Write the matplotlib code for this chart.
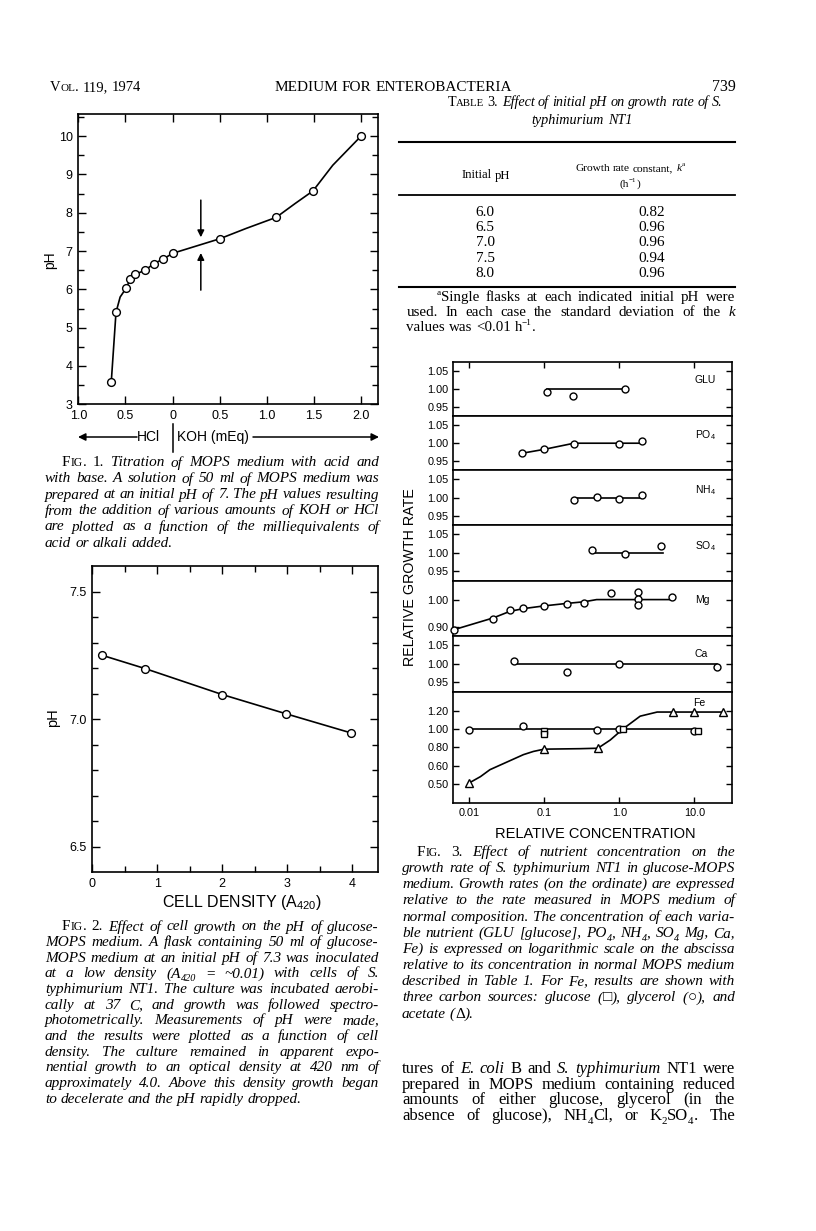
import re
import numpy as np
import matplotlib
matplotlib.use('Agg')
import matplotlib.pyplot as plt
from matplotlib.font_manager import FontProperties
from matplotlib.lines import Line2D
from matplotlib.patches import FancyArrowPatch
from matplotlib.ticker import NullLocator, FixedLocator

plt.rcParams['font.family'] = ['Liberation Sans', 'DejaVu Sans']
plt.rcParams['mathtext.fontset'] = 'custom'
plt.rcParams['mathtext.rm'] = 'Liberation Sans'
plt.rcParams['mathtext.it'] = 'Liberation Sans:italic'
plt.rcParams['mathtext.bf'] = 'Liberation Sans:bold'

# ---------------- data ----------------
# Fig. 1 titration (negative = HCl, positive = KOH), mEq
titr_meq = [-0.65, -0.60, -0.49, -0.45, -0.40, -0.29, -0.20, -0.10, 0.0, 0.50, 1.10, 1.49, 2.0]
titr_ph = [3.59, 5.40, 6.04, 6.27, 6.39, 6.50, 6.67, 6.79, 6.94, 7.32, 7.88, 8.57, 10.0]
titr_curve_x = [-0.65, -0.60, -0.556, -0.49, -0.45, -0.40, -0.29, -0.20, -0.10, 0.0, 0.50, 0.78, 1.10, 1.30, 1.49, 1.70, 2.0]
titr_curve_y = [3.59, 5.40, 5.80, 6.04, 6.27, 6.39, 6.50, 6.67, 6.79, 6.94, 7.32, 7.59, 7.88, 8.24, 8.57, 9.24, 10.0]
fig1_xticks = [-1.0, -0.5, 0.0, 0.5, 1.0, 1.5, 2.0]
fig1_xlabels = ['1.0', '0.5', '0', '0.5', '1.0', '1.5', '2.0']
fig1_yticks = [3, 4, 5, 6, 7, 8, 9, 10]

# Fig. 2 pH vs cell density
cell_density = [0.15, 0.81, 2.0, 2.99, 3.99]
ph_growth = [7.25, 7.198, 7.096, 7.02, 6.945]

# Fig. 3 relative growth rate vs relative concentration
glu_conc = [0.11, 0.24, 1.2]
glu_rate = [0.99, 0.98, 1.00]
glu_fit_conc = [0.11, 1.2]
glu_fit = [1.0, 1.0]

po4_conc = [0.05, 0.1, 0.25, 1.0, 2.0]
po4_rate = [0.971, 0.982, 0.998, 0.997, 1.005]
po4_fit_conc = [0.05, 0.1, 0.25, 2.0]
po4_fit = [0.971, 0.982, 0.999, 0.999]

nh4_conc = [0.25, 0.5, 1.0, 2.0]
nh4_rate = [0.994, 1.002, 0.997, 1.006]
nh4_fit_conc = [0.25, 2.0]
nh4_fit = [0.998, 0.998]

so4_conc = [0.43, 1.2, 3.6]
so4_rate = [1.009, 0.996, 1.019]
so4_fit_conc = [0.43, 3.8]
so4_fit = [0.999, 0.999]

mg_conc = [0.0063, 0.021, 0.035, 0.053, 0.1, 0.2, 0.34, 0.78, 1.77, 1.77, 1.77, 5.0]
mg_rate = [0.89, 0.93, 0.962, 0.97, 0.978, 0.983, 0.987, 1.023, 1.027, 1.003, 0.98, 1.008]
mg_fit_conc = [0.0063, 0.021, 0.035, 0.053, 0.1, 0.2, 0.34, 0.5, 5.0]
mg_fit = [0.89, 0.933, 0.957, 0.967, 0.977, 0.986, 0.992, 1.0, 1.0]

ca_conc = [0.04, 0.2, 1.0, 20.0]
ca_rate = [1.008, 0.977, 0.999, 0.992]
ca_fit_conc = [0.04, 20.0]
ca_fit = [1.0, 1.0]

fe_glyc_conc = [0.01, 0.052, 0.5, 1.0, 10.0]
fe_glyc_rate = [0.985, 1.035, 0.99, 1.0, 0.975]
fe_glyc_fit_conc = [0.01, 10.0]
fe_glyc_fit = [1.0, 1.0]
fe_gluc_conc = [0.1, 0.1, 1.12, 11.3]
fe_gluc_rate = [0.975, 0.94, 1.0, 0.975]
fe_acet_conc = [0.01, 0.1, 0.52, 5.2, 10.0, 24.4]
fe_acet_rate = [0.41, 0.78, 0.79, 1.185, 1.185, 1.185]
fe_acet_fit_conc = [0.01, 0.0142, 0.019, 0.053, 0.072, 0.1, 0.3, 0.52, 0.76, 1.12, 1.9, 3.2, 24.4]
fe_acet_fit = [0.41, 0.48, 0.556, 0.72, 0.755, 0.78, 0.785, 0.79, 0.88, 1.0, 1.14, 1.185, 1.185]
fe_yticks = [1.2, 1.0, 0.8, 0.6, 0.4]
fe_ylabels = ['1.20', '1.00', '0.80', '0.60', '0.50']
fig3_xticks = [0.01, 0.1, 1.0, 10.0]
fig3_xlabels = ['0.01', '0.1', '1.0', '10.0']

# Table 3
table_ph = ['6.0', '6.5', '7.0', '7.5', '8.0']
table_k = ['0.82', '0.96', '0.96', '0.94', '0.96']

# ---------------- figure ----------------
W, H = 816, 1231
fig = plt.figure(figsize=(W / 100, H / 100), dpi=100)
fig.patch.set_facecolor('white')
renderer = fig.canvas.get_renderer()
PT = 100 / 72.0
SERIF = ['Liberation Serif', 'DejaVu Serif']


def fx(x):
    return x / W


def fy(y):
    return 1 - y / H


def add_ax(l, t, r, b):
    return fig.add_axes([l / W, 1 - b / H, (r - l) / W, (b - t) / H])


def hline(x0, x1, y, lw=1.3):
    fig.add_artist(Line2D([fx(x0), fx(x1)], [fy(y), fy(y)], transform=fig.transFigure,
                          color='k', lw=lw))


# ---------- serif text engine (justified lines with mixed styles) ----------
STY = {'i': (True, 1.0, 0.0), 'r': (False, 1.0, 0.0), 'sc': (False, 0.76, 0.0),
       'sub': (False, 0.66, 0.25), 'sup': (False, 0.62, -0.42), 'isub': (True, 0.66, 0.25)}
TAG = re.compile(r'\{(\w+):([^}]*)\}')


def prop_for(st, size):
    it, sc, dy = STY[st]
    return FontProperties(family=SERIF, style='italic' if it else 'normal', size=size * sc)


def seg_w(text, st, size):
    w, h, d = renderer.get_text_width_height_descent(text, prop_for(st, size), ismath=False)
    return w


def parse(s, default):
    segs = []
    pos = 0
    for m in TAG.finditer(s):
        if m.start() > pos:
            segs.append((s[pos:m.start()], default))
        segs.append((m.group(2), m.group(1)))
        pos = m.end()
    if pos < len(s):
        segs.append((s[pos:], default))
    words = [[]]
    for text, st in segs:
        parts = text.split(' ')
        for k, p in enumerate(parts):
            if k > 0:
                words.append([])
            if p:
                words[-1].append((p, st))
    return [w for w in words if w]


def draw_line(s, x0, x1, y, size, default='i', mode='justify'):
    words = parse(s, default)
    widths = [sum(seg_w(t, st, size) for t, st in w) for w in words]
    space = seg_w('n n', 'r', size) - seg_w('nn', 'r', size)
    total = sum(widths)
    if mode == 'justify' and len(words) > 1:
        gap = (x1 - x0 - total) / (len(words) - 1)
        x = x0
    else:
        gap = space
        full = total + space * (len(words) - 1)
        if mode == 'left':
            x = x0
        elif mode == 'right':
            x = x1 - full
        else:
            x = x0 - full / 2.0
    for w, ww in zip(words, widths):
        xx = x
        for t, st in w:
            dyf = STY[st][2]
            fig.text(fx(xx), fy(y + dyf * size * PT), t, fontproperties=prop_for(st, size),
                     ha='left', va='baseline')
            xx += seg_w(t, st, size)
        x += ww + gap


def draw_par(lines, x_first, x0, x1, y0, dy, size, default='i', last_left=True):
    for k, s in enumerate(lines):
        last = (k == len(lines) - 1) and last_left
        draw_line(s, x_first if k == 0 else x0, x1, y0 + k * dy, size, default,
                  'left' if last else 'justify')


def style_axes(ax, labelsize):
    for sp in ax.spines.values():
        sp.set_linewidth(1.2)
    ax.tick_params(which='both', direction='in', top=True, right=True, width=1.0,
                   labelsize=labelsize, pad=4)
    ax.tick_params(which='major', length=5.5)
    ax.tick_params(which='minor', length=4.5)


# ---------------- page header ----------------
HDR = 11
draw_line('V{sc:OL}. 119, 1974', 50, 0, 91, 10.5, 'r', 'left')
draw_line('MEDIUM FOR ENTEROBACTERIA', 393, 0, 91, HDR, 'r', 'center')
draw_line('739', 0, 736, 91, 11.5, 'r', 'right')

# ---------------- Fig. 1 ----------------
ax1 = add_ax(78.3, 114.3, 378, 404.3)
ax1.plot(titr_curve_x, titr_curve_y, color='k', lw=1.2, zorder=2)
ax1.plot(titr_meq, titr_ph, 'o', ms=5.6, mfc='white', mec='k', mew=1.0, zorder=3)
ax1.set_xlim(-1.0, 2.18)
ax1.set_ylim(3.0, 10.57)
ax1.xaxis.set_major_locator(FixedLocator(fig1_xticks))
ax1.set_xticklabels(fig1_xlabels)
ax1.yaxis.set_major_locator(FixedLocator(fig1_yticks))
ax1.set_yticklabels([str(v) for v in fig1_yticks])
ax1.yaxis.set_minor_locator(FixedLocator([v + 0.5 for v in fig1_yticks]))
ax1.xaxis.set_minor_locator(NullLocator())
style_axes(ax1, 9)
arrow_kw = dict(arrowstyle='-|>', color='k', lw=1.1, mutation_scale=10, shrinkA=0, shrinkB=0)
ax1.annotate('', xy=(0.30, 7.36), xytext=(0.30, 8.33), arrowprops=arrow_kw)
ax1.annotate('', xy=(0.30, 6.95), xytext=(0.30, 5.98), arrowprops=arrow_kw)
fig.text(fx(50), fy(260), 'pH', rotation=90, ha='center', va='center', fontsize=10)

# HCl | KOH axis legend
fig.add_artist(FancyArrowPatch((fx(137), fy(437)), (fx(78), fy(437)), transform=fig.transFigure,
                               arrowstyle='-|>', mutation_scale=11, color='k', lw=1.1,
                               shrinkA=0, shrinkB=0))
fig.add_artist(FancyArrowPatch((fx(253), fy(437)), (fx(379), fy(437)), transform=fig.transFigure,
                               arrowstyle='-|>', mutation_scale=11, color='k', lw=1.1,
                               shrinkA=0, shrinkB=0))
fig.add_artist(Line2D([fx(173.3), fx(173.3)], [fy(424), fy(452)], transform=fig.transFigure,
                      color='k', lw=1.1))
fig.text(fx(148.5), fy(437), 'HCl', ha='center', va='center', fontsize=10)
fig.text(fx(213), fy(437), 'KOH (mEq)', ha='center', va='center', fontsize=10)

CAP = 11
cap1 = [
    '{r:F}{sc:IG}{r:. 1.} Titration of MOPS medium with acid and',
    'with base. A solution of 50 ml of MOPS medium was',
    'prepared at an initial pH of 7. The pH values resulting',
    'from the addition of various amounts of KOH or HCl',
    'are plotted as a function of the milliequivalents of',
    'acid or alkali added.',
]
draw_par(cap1, 62, 45, 379, 466.5, 16.0, CAP)

# ---------------- Fig. 2 ----------------
ax2 = add_ax(92.3, 566, 378, 872)
ax2.plot(cell_density, ph_growth, '-o', color='k', lw=1.2, ms=5.6, mfc='white', mec='k', mew=1.0)
ax2.set_xlim(0, 4.4)
ax2.set_ylim(6.4, 7.6)
ax2.xaxis.set_major_locator(FixedLocator([0, 1, 2, 3, 4]))
ax2.set_xticklabels(['0', '1', '2', '3', '4'])
ax2.xaxis.set_minor_locator(FixedLocator([0.5, 1.5, 2.5, 3.5]))
ax2.yaxis.set_major_locator(FixedLocator([6.5, 7.0, 7.5]))
ax2.set_yticklabels(['6.5', '7.0', '7.5'])
ax2.yaxis.set_minor_locator(FixedLocator([6.6, 6.7, 6.8, 6.9, 7.1, 7.2, 7.3, 7.4]))
style_axes(ax2, 9)
fig.text(fx(53), fy(718), 'pH', rotation=90, ha='center', va='center', fontsize=10.5)
fig.text(fx(242), fy(902), 'CELL DENSITY (A$_{420}$)', ha='center', va='center', fontsize=11.5)

cap2 = [
    '{r:F}{sc:IG}{r:. 2.} Effect of cell growth on the pH of glucose-',
    'MOPS medium. A flask containing 50 ml of glucose-',
    'MOPS medium at an initial pH of 7.3 was inoculated',
    'at a low density (A{isub:420} = ~0.01) with cells of S.',
    'typhimurium NT1. The culture was incubated aerobi-',
    'cally at 37 C, and growth was followed spectro-',
    'photometrically. Measurements of pH were made,',
    'and the results were plotted as a function of cell',
    'density. The culture remained in apparent expo-',
    'nential growth to an optical density at 420 nm of',
    'approximately 4.0. Above this density growth began',
    'to decelerate and the pH rapidly dropped.',
]
draw_par(cap2, 62, 45, 379, 930.5, 15.66, CAP)

# ---------------- Table 3 ----------------
draw_line('{r:T}{sc:ABLE}{r: 3.} Effect of initial pH on growth rate of S.', 585, 0, 106, 10.2, 'i', 'center')
draw_line('typhimurium NT1', 582, 0, 124, 10.2, 'i', 'center')
hline(399, 735, 141.7, 1.5)
hline(399, 735, 195, 1.3)
hline(399, 735, 287.3, 1.5)
draw_line('Initial pH', 485.5, 0, 178.5, 9.2, 'r', 'center')
draw_line('Growth rate constant, {i:k}{sup:a}', 630, 0, 171, 8.2, 'r', 'center')
draw_line('(h{sup:\u22121})', 630, 0, 186.5, 8.2, 'r', 'center')
for k in range(len(table_ph)):
    yy = 215.5 + 15.4 * k
    draw_line(table_ph[k], 485, 0, yy, 11, 'r', 'center')
    draw_line(table_k[k], 652, 0, yy, 11, 'r', 'center')
foot = [
    '{sup:a}Single flasks at each indicated initial pH were',
    'used. In each case the standard deviation of the {i:k}',
    'values was <0.01 h{sup:\u22121}.',
]
draw_par(foot, 436.5, 406.5, 735, 301, 15.2, 10.8, 'r')

# ---------------- Fig. 3 ----------------
panels = [
    # top, bottom, ylim, ticks, labels, name, name_xy
    (362.0, 415.7, (0.925, 1.075), [1.05, 1.00, 0.95], ['1.05', '1.00', '0.95'], 'GLU', (705, 380)),
    (415.7, 470.0, (0.925, 1.075), [1.05, 1.00, 0.95], ['1.05', '1.00', '0.95'], 'PO$_4$', (705, 435)),
    (470.0, 525.0, (0.925, 1.075), [1.05, 1.00, 0.95], ['1.05', '1.00', '0.95'], 'NH$_4$', (705, 490)),
    (525.0, 580.7, (0.925, 1.075), [1.05, 1.00, 0.95], ['1.05', '1.00', '0.95'], 'SO$_4$', (705, 546)),
    (580.7, 636.0, (0.867, 1.069), [1.00, 0.90], ['1.00', '0.90'], 'Mg', (702, 600)),
    (636.0, 691.7, (0.925, 1.075), [1.05, 1.00, 0.95], ['1.05', '1.00', '0.95'], 'Ca', (701, 654)),
    (691.7, 803.3, (0.189, 1.407), fe_yticks, fe_ylabels, 'Fe', (699, 703)),
]
series = [
    [(glu_fit_conc, glu_fit, None), (glu_conc, glu_rate, 'o')],
    [(po4_fit_conc, po4_fit, None), (po4_conc, po4_rate, 'o')],
    [(nh4_fit_conc, nh4_fit, None), (nh4_conc, nh4_rate, 'o')],
    [(so4_fit_conc, so4_fit, None), (so4_conc, so4_rate, 'o')],
    [(mg_fit_conc, mg_fit, None), (mg_conc, mg_rate, 'o')],
    [(ca_fit_conc, ca_fit, None), (ca_conc, ca_rate, 'o')],
    [(fe_glyc_fit_conc, fe_glyc_fit, None), (fe_acet_fit_conc, fe_acet_fit, None),
     (fe_glyc_conc, fe_glyc_rate, 'o'), (fe_gluc_conc, fe_gluc_rate, 's'),
     (fe_acet_conc, fe_acet_rate, '^')],
]
msz = {'o': 5.0, 's': 4.6, '^': 5.2}
for i, ((t, b, yl, yt, ylab, name, nxy), ser) in enumerate(zip(panels, series)):
    ax = add_ax(453.3, t, 732.3, b)
    for xs, ys, mk in ser:
        if mk is None:
            ax.plot(xs, ys, color='k', lw=1.2, zorder=2, clip_on=False)
        else:
            ax.plot(xs, ys, linestyle='none', marker=mk, ms=msz[mk], mfc='white', mec='k',
                    mew=1.0, zorder=3, clip_on=False)
    ax.set_xscale('log')
    ax.set_xlim(0.00618, 32.0)
    ax.set_ylim(*yl)
    ax.yaxis.set_major_locator(FixedLocator(yt))
    ax.set_yticklabels(ylab)
    ax.yaxis.set_minor_locator(NullLocator())
    ax.xaxis.set_major_locator(FixedLocator(fig3_xticks))
    ax.xaxis.set_minor_locator(NullLocator())
    for sp in ax.spines.values():
        sp.set_linewidth(1.2)
    ax.tick_params(which='both', direction='in', right=True, width=1.0, length=4.5,
                   labelsize=7.8, pad=3.5)
    ax.tick_params(axis='x', top=(i == 0), bottom=(i == len(panels) - 1),
                   labelbottom=(i == len(panels) - 1))
    if i == len(panels) - 1:
        ax.set_xticklabels(fig3_xlabels)
    fig.text(fx(nxy[0]), fy(nxy[1]), name, ha='center', va='center', fontsize=7.5)

fig.text(fx(410), fy(577), 'RELATIVE GROWTH RATE', rotation=90, ha='center', va='center', fontsize=10.3)
fig.text(fx(595), fy(834), 'RELATIVE CONCENTRATION', ha='center', va='center', fontsize=10.5)

cap3 = [
    '{r:F}{sc:IG}{r:. 3.} Effect of nutrient concentration on the',
    'growth rate of S. typhimurium NT1 in glucose-MOPS',
    'medium. Growth rates (on the ordinate) are expressed',
    'relative to the rate measured in MOPS medium of',
    'normal composition. The concentration of each varia-',
    'ble nutrient (GLU [glucose], PO{isub:4}, NH{isub:4}, SO{isub:4} Mg, Ca,',
    'Fe) is expressed on logarithmic scale on the abscissa',
    'relative to its concentration in normal MOPS medium',
    'described in Table 1. For Fe, results are shown with',
    'three carbon sources: glucose ({r:\u25a1}), glycerol ({r:\u25cb}), and',
    'acetate ({r:\u0394}).',
]
draw_par(cap3, 416.7, 402, 735, 856, 16.16, CAP)

body = [
    'tures of {i:E.} {i:coli} B and {i:S.} {i:typhimurium} NT1 were',
    'prepared in MOPS medium containing reduced',
    'amounts of either glucose, glycerol (in the',
    'absence of glucose), NH{sub:4}Cl, or K{sub:2}SO{sub:4}. The',
]
draw_par(body, 402, 402, 735, 1073, 15.6, 12.0, 'r', last_left=False)

fig.savefig('out.png', dpi=100, facecolor='white')
